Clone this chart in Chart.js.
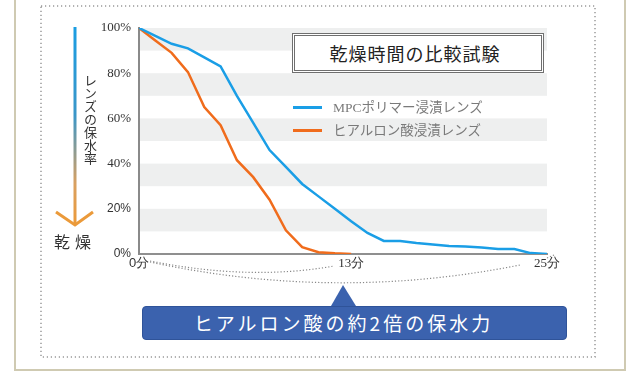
<!DOCTYPE html>
<html lang="ja">
<head>
<meta charset="UTF-8">
<title>乾燥時間の比較試験</title>
<script src="https://cdn.jsdelivr.net/npm/chart.js"></script>
<style>
    body { margin: 0; background: #fff; }
    .wrap { position: relative; width: 640px; height: 384px; overflow: hidden; font-family: "Noto Sans CJK JP", sans-serif; }
    #chart { position: absolute; left: 0; top: 0; }
    svg.deco { position: absolute; left: 0; top: 0; }
    .title-box {
        position: absolute; left: 292px; top: 33px; width: 240px; height: 34px;
        border: 3px double #6f6f6f; background: #fff;
        font-size: 18px; line-height: 34px; text-align: center; letter-spacing: 1px; color: #222;
        padding-right: 6px; box-sizing: content-box;
    }
    .legend { position: absolute; left: 293px; font-family: "Liberation Serif", "Noto Sans CJK JP", serif; font-size: 13.5px; color: #7a7a7a; }
    .legend span { display: inline-block; width: 29px; height: 3px; vertical-align: middle; margin-right: 11px; position: relative; top: -1px; }
    .vlabel { position: absolute; left: 81px; top: 74px; writing-mode: vertical-rl; font-size: 13px; color: #333; }
    .dry { position: absolute; left: 54px; top: 229px; font-size: 16px; letter-spacing: 5px; color: #333; }
    .banner {
        position: absolute; left: 142px; top: 306px; width: 425px; height: 34px;
        background: #3b62ae; border: 1px solid #2f5399; border-radius: 4px; box-sizing: border-box;
        color: #fff; font-size: 19px; line-height: 32px; text-align: center; letter-spacing: 3px;
        padding-right: 22px;
    }
</style>
</head>
<body>
<div class="wrap">
    <svg class="deco" width="640" height="384">
        <defs>
            <linearGradient id="arrowGrad" x1="0" y1="0" x2="0" y2="1">
                <stop offset="0" stop-color="#1a9de2"/>
                <stop offset="0.45" stop-color="#3a96c8"/>
                <stop offset="0.8" stop-color="#d9a060"/>
                <stop offset="1" stop-color="#eb9a3a"/>
            </linearGradient>
        </defs>
        <rect x="15" y="-5" width="610" height="375" fill="none" stroke="#cfcab2" stroke-width="2"/>
        <rect x="41" y="6" width="554" height="351" fill="none" stroke="#999" stroke-width="1.5" stroke-dasharray="1.2 2.8"/>
        <rect x="73.5" y="27" width="3" height="196" fill="url(#arrowGrad)"/>
        <polyline points="56,212 75,225 93,212" fill="none" stroke="#eb9a3a" stroke-width="3"/>
        <path d="M150 261 Q250 281 334 266" fill="none" stroke="#888" stroke-width="1.2" stroke-dasharray="1.2 2"/>
        <path d="M150 262 Q335 302 520 265" fill="none" stroke="#888" stroke-width="1.2" stroke-dasharray="1.2 2"/>
        <path d="M547 258 L554 255" fill="none" stroke="#888" stroke-width="1.2" stroke-dasharray="1.2 2"/>
        <polygon points="343,285 331,306 356,306" fill="#3b62ae"/>
    </svg>
    <canvas id="chart" width="640" height="384"></canvas>
    <div class="title-box">乾燥時間の比較試験</div>
    <div class="legend" style="top: 96px;"><span style="background:#1a9ee6"></span>MPCポリマー浸漬レンズ</div>
    <div class="legend" style="top: 119px;"><span style="background:#f06c1c"></span>ヒアルロン酸浸漬レンズ</div>
    <div class="vlabel">レンズの保水率</div>
    <div class="dry">乾燥</div>
    <div class="banner">ヒアルロン酸の約2倍の保水力</div>
</div>

<script>
    // 経過時間（分）
    const minuteLabels = ['0', '1', '2', '3', '4', '5', '6', '7', '8', '9', '10', '11', '12',
        '13', '14', '15', '16', '17', '18', '19', '20', '21', '22', '23', '24', '25'];
    // 保水率（%）
    const mpcValues = [100, 96.5, 93, 91, 87, 83, 70, 58, 46, 38.5, 31, 25.5, 20,
        14.5, 9.3, 5.8, 5.8, 4.9, 4.2, 3.5, 3.3, 2.9, 2.2, 2.2, 0.4, 0];
    const hyaluronValues = [100, 94.5, 89, 80.5, 65, 57, 41.5, 34, 24, 10.5, 3, 0.8, 0.3,
        0, null, null, null, null, null, null, null, null, null, null, null, null];
    const shownMinutes = ['0', '13', '25'];
    const yTicks = [0, 20, 40, 60, 80, 100];
    const grayBands = [[90, 100], [70, 80], [50, 60], [30, 40], [10, 20]];

    const bandPlugin = {
        id: 'bands',
        beforeDraw(chart) {
            const { ctx, chartArea, scales } = chart;
            ctx.save();
            ctx.fillStyle = '#eeefef';
            grayBands.forEach(([lo, hi]) => {
                const top = scales.y.getPixelForValue(hi);
                const bottom = scales.y.getPixelForValue(lo);
                ctx.fillRect(chartArea.left, top, chartArea.right - chartArea.left, bottom - top);
            });
            ctx.restore();
        }
    };

    new Chart(document.getElementById('chart'), {
        type: 'line',
        data: {
            labels: minuteLabels,
            datasets: [
                { label: 'MPCポリマー浸漬レンズ', data: mpcValues, borderColor: '#1a9ee6', borderWidth: 2.5, pointRadius: 0, tension: 0 },
                { label: 'ヒアルロン酸浸漬レンズ', data: hyaluronValues, borderColor: '#f06c1c', borderWidth: 2.5, pointRadius: 0, tension: 0 }
            ]
        },
        options: {
            responsive: false,
            animation: false,
            layout: { padding: { top: 28, right: 93, left: 0, bottom: 0 } },
            plugins: { legend: { display: false }, tooltip: { enabled: false } },
            scales: {
                x: {
                    grid: { display: false, drawTicks: false },
                    border: { color: '#8f8f8f', width: 2 },
                    afterFit(scale) { scale.height = 130; },
                    ticks: {
                        autoSkip: false,
                        maxRotation: 0,
                        padding: 2,
                        color: '#333',
                        font: (c) => ({ family: c.index === 0 ? 'Liberation Sans' : 'Liberation Serif', size: 13 }),
                        callback: (v, i) => shownMinutes.includes(minuteLabels[i]) ? minuteLabels[i] + '分' : ''
                    }
                },
                y: {
                    min: 0,
                    max: 100,
                    grid: { display: false, drawTicks: false },
                    border: { color: '#8a8a8a', width: 2 },
                    afterFit(scale) { scale.width = 139; },
                    afterBuildTicks(scale) { scale.ticks = yTicks.map(v => ({ value: v })); },
                    ticks: {
                        padding: 8,
                        color: '#333',
                        font: (c) => c.tick && c.tick.value <= 20
                            ? { family: 'Liberation Sans', size: 12 }
                            : { family: 'Liberation Serif', size: 13 },
                        callback: (v) => v + '%'
                    }
                }
            }
        },
        plugins: [bandPlugin]
    });
</script>
</body>
</html>
